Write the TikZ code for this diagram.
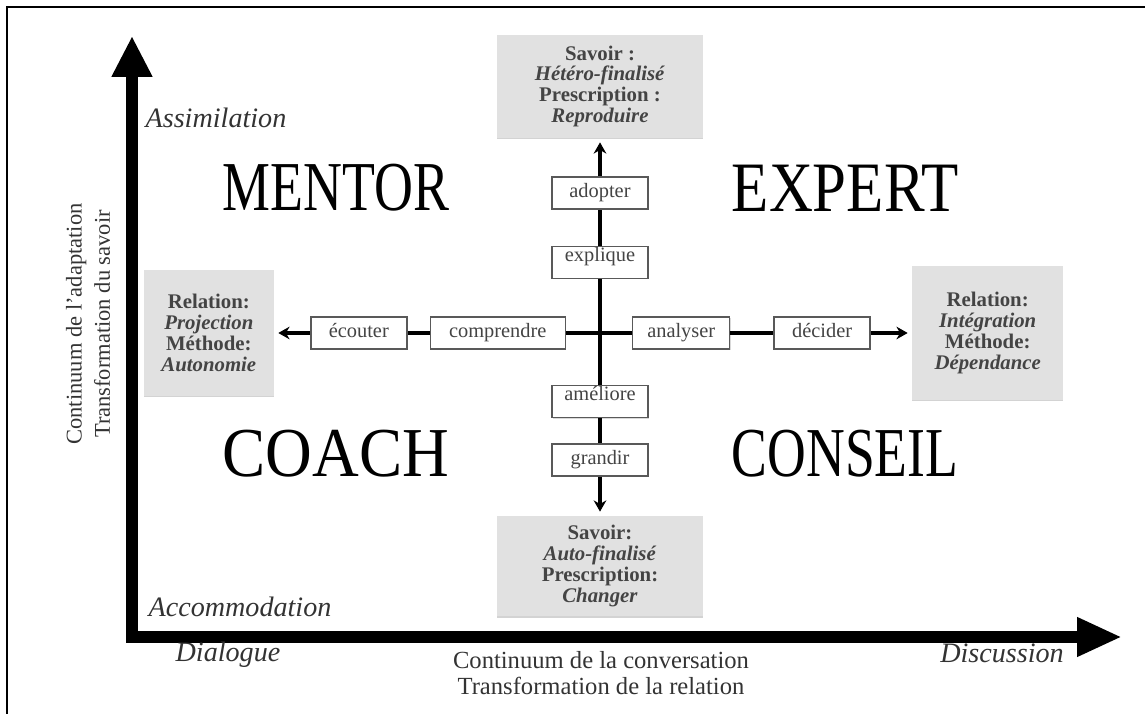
\documentclass[tikz,border=0pt]{standalone}
\usepackage{fontspec}
\setmainfont{Liberation Serif}
\usetikzlibrary{shapes,arrows,arrows.meta,positioning,shadows}
\definecolor{boxgray}{RGB}{225,225,225}
\definecolor{txtgray}{RGB}{68,68,68}
\newcommand{\quadword}[1]{\resizebox{161pt}{33pt}{#1}}

\begin{document}
\begin{tikzpicture}[
    x=0.025cm, y=-0.025cm,
    node distance=0.8cm and 0.8cm,
    verbbox/.style={rectangle, draw=black!65, line width=1pt, fill=white, minimum width=2.4cm, minimum height=0.8cm, inner sep=2pt, text height=10pt, text depth=3.5pt, text=txtgray, font=\fontsize{14.5}{16}\selectfont, drop shadow={shadow xshift=0.8pt, shadow yshift=-0.8pt, opacity=0.3}},
    toptext/.style={text height=6pt, text depth=7.5pt},
    polebox/.style={rectangle, fill=boxgray, align=center, text=txtgray, font=\fontsize{14.8}{14.8}\selectfont\bfseries, drop shadow={shadow xshift=0pt, shadow yshift=-1pt, opacity=0.35}},
    axislabel/.style={text=black!80, font=\fontsize{20}{22}\selectfont\itshape},
    axistitle/.style={text=black!80, align=center},
    mainaxis/.style={line width=8.5pt, {Triangle[length=29pt, width=27pt]}-{Triangle[length=32pt, width=26pt]}},
    arrow/.style={-{Stealth[length=8pt, width=9pt]}, line width=2.3pt},
    link/.style={line width=2.3pt}
]
\useasboundingbox (0,0) rectangle (1145,714);

% Frame
\draw[line width=1pt] (7,714) -- (7,7) -- (1145,7);

% Axes
\coordinate (ytip) at (132,36);
\coordinate (xtip) at (1122,637);
\draw[mainaxis] (ytip) |- (xtip);

% Axis labels
\node[axislabel] (assimilation) at (216,118) {Assimilation};
\node[axislabel] (accommodation) at (240,607) {Accommodation};
\node[axislabel] (dialogue) at (228,655) {Dialogue};
\node[axislabel] (discussion) at (1002,653) {Discussion};
\node[axistitle, font=\fontsize{17.5}{18.5}\selectfont] (conversation) at (601,673) {Continuum de la conversation\\ Transformation de la relation};
\node[axistitle, rotate=90, font=\fontsize{16}{20}\selectfont] (adaptation) at (88,324) {Continuum de l'adaptation\\ Transformation du savoir};

% Quadrants
\node (mentor) at (336,188) {\quadword{MENTOR}};
\node (expert) at (845,188) {\quadword{EXPERT}};
\node (coach) at (336,454) {\quadword{COACH}};
\node (conseil) at (845,454) {\quadword{CONSEIL}};

% Vertical chain
\coordinate (mid) at (600,333);
\node[verbbox, toptext, above=1.35cm of mid] (explique) {explique};
\node[verbbox, above=0.9cm of explique] (adopter) {adopter};
\node[polebox, minimum width=5.125cm, minimum height=2.575cm, above=0.95cm of adopter] (savoirhaut) {Savoir :\\ \textit{Hétéro-finalisé}\\ Prescription :\\ \textit{Reproduire}};
\node[verbbox, toptext, below=1.3cm of mid] (ameliore) {améliore};
\node[verbbox, below=0.625cm of ameliore] (grandir) {grandir};
\node[polebox, minimum width=5.125cm, minimum height=2.5cm, below=0.975cm of grandir] (savoirbas) {Savoir:\\ \textit{Auto-finalisé}\\ Prescription:\\ \textit{Changer}};

% Horizontal chain
\node[verbbox, minimum width=3.375cm, left=0.85cm of mid] (comprendre) {comprendre};
\node[verbbox, left=0.55cm of comprendre] (ecouter) {écouter};
\node[polebox, minimum width=3.25cm, minimum height=3.15cm, left=0.9cm of ecouter] (relgauche) {Relation:\\ \textit{Projection}\\ Méthode:\\ \textit{Autonomie}};
\node[verbbox, minimum width=2.425cm, right=0.8cm of mid] (analyser) {analyser};
\node[verbbox, right=1.075cm of analyser] (decider) {décider};
\node[polebox, minimum width=3.775cm, minimum height=3.35cm, right=1.025cm of decider] (reldroite) {Relation:\\ \textit{Intégration}\\ Méthode:\\ \textit{Dépendance}};

% Arrows
\draw[link] (mid) -- (explique);
\draw[link] (explique) -- (adopter);
\draw[arrow, shorten >=3pt] (adopter) -- (savoirhaut);
\draw[link] (mid) -- (ameliore);
\draw[link] (ameliore) -- (grandir);
\draw[arrow, shorten >=3pt] (grandir) -- (savoirbas);
\draw[link] (mid) -- (comprendre);
\draw[link] (comprendre) -- (ecouter);
\draw[arrow, shorten >=3pt] (ecouter) -- (relgauche);
\draw[link] (mid) -- (analyser);
\draw[link] (analyser) -- (decider);
\draw[arrow, shorten >=3pt] (decider) -- (reldroite);

\end{tikzpicture}
\end{document}
